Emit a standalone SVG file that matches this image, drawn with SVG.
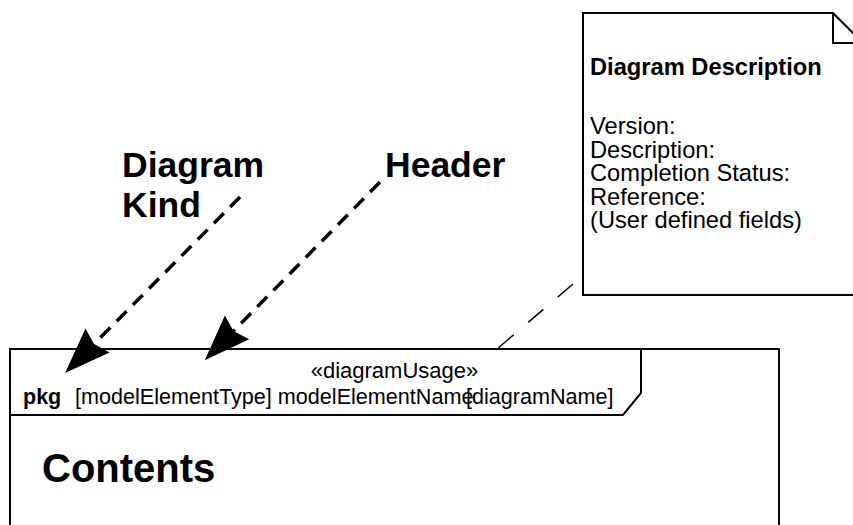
<svg xmlns="http://www.w3.org/2000/svg" width="853" height="525" viewBox="0 0 853 525">
  <defs>
    <style>
      text { font-family: "Liberation Sans", Arial, sans-serif; fill: #000; }
      .b { font-weight: bold; }
      .shape { fill: #fff; stroke: #000; stroke-width: 2; }
      .line { fill: none; stroke: #000; stroke-width: 2; }
      .arrow { fill: none; stroke: #000; stroke-width: 3.5; stroke-dasharray: 14 9; }
      .anchor { fill: none; stroke: #000; stroke-width: 1.5; stroke-dasharray: 20 19; }
      .nt { font-size: 23.7px; }
    </style>
    <marker id="head" markerUnits="userSpaceOnUse" markerWidth="48" markerHeight="36" refX="5" refY="17" orient="auto" overflow="visible">
      <path d="M0,0 L46,17 L0,34 L5,17 Z" fill="#000"/>
    </marker>
  </defs>
  <rect width="853" height="525" fill="#fff"/>

  <g id="frame">
    <rect class="shape" x="10" y="349" width="769" height="200"/>
    <path class="line" d="M10,415 L623,415 L641,393 L641,349"/>
    <text x="394.5" y="378" font-size="22" text-anchor="middle">«diagramUsage»</text>
    <text class="b" x="23" y="404" font-size="21.5">pkg</text>
    <text x="75" y="404" font-size="21.6">[modelElementType] modelElementName</text>
    <text x="466" y="404" font-size="21.6">[diagramName]</text>
    <text class="b" x="42" y="482" font-size="40">Contents</text>
  </g>

  <g id="note">
    <path class="shape" d="M583,13 L833,13 L863,43 L863,295 L583,295 Z"/>
    <path class="line" d="M833,13 L833,43 L863,43"/>
    <text class="b" x="590" y="75" font-size="23.7">Diagram Description</text>
    <text class="nt" x="590" y="134">Version:</text>
    <text class="nt" x="590" y="157.5">Description:</text>
    <text class="nt" x="590" y="181">Completion Status:</text>
    <text class="nt" x="590" y="204.5">Reference:</text>
    <text class="nt" x="590" y="228">(User defined fields)</text>
  </g>

  <g id="label-kind">
    <text class="b" x="122" y="177" font-size="35.5">Diagram</text>
    <text class="b" x="122" y="217" font-size="35.5">Kind</text>
  </g>
  <g id="label-header">
    <text class="b" x="385" y="177" font-size="35.5">Header</text>
  </g>

  <g id="connectors">
    <path class="arrow" d="M240,197 L94,344" marker-end="url(#head)"/>
    <path class="arrow" d="M380,182 L233.5,331" marker-end="url(#head)"/>
    <path class="anchor" d="M573,284 L497,349"/>
  </g>
</svg>
